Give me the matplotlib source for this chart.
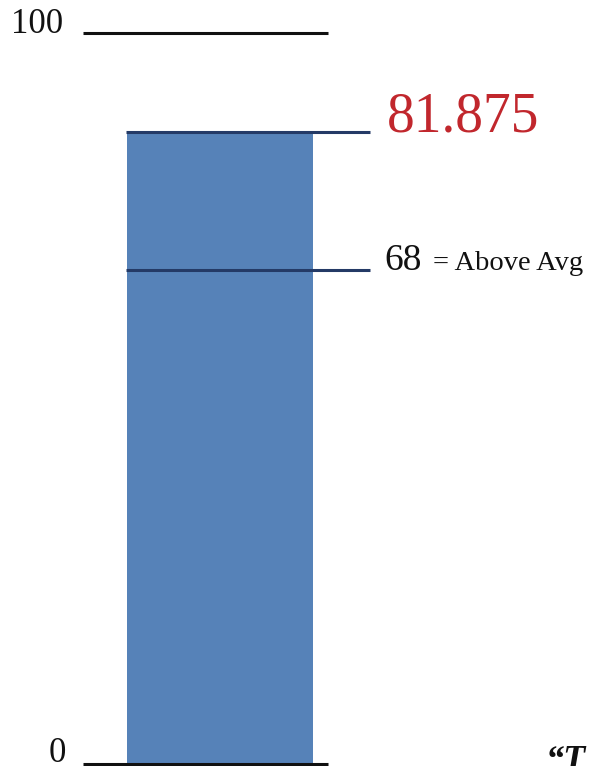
import matplotlib
matplotlib.use('Agg')
import matplotlib.pyplot as plt

# scale ends and their labels
scale_levels = [0, 100]
scale_labels = ['0', '100']

# the score bar (drawn level; label as printed)
score_level = 86.5
score_label = '81.875'

# reference mark
avg_level = 67.6
avg_label = '68'
avg_note = '= Above Avg'

W, H = 592, 766
fig = plt.figure(figsize=(W / 100, H / 100), dpi=100)
ax = fig.add_axes([0, 0, 1, 1])
ax.set_xlim(0, W)
# 0 sits 2 px above the bottom edge, 100 sits 33 px below the top edge
unit = 100 / 731
ax.set_ylim(-2 * unit, 100 + 33 * unit)
ax.axis('off')

serif = 'Liberation Serif'

# bar
ax.bar(220, score_level, width=186, color='#5682B8', zorder=1)

# scale lines and labels
for lvl, lab in zip(scale_levels, scale_labels):
    ax.hlines(lvl, 83, 328, color='#111111', lw=2.2, zorder=3)
    ax.text(66 if lvl == 0 else 63, lvl + (0.25 if lvl == 0 else 0), lab,
            ha='right', va='baseline', fontsize=25, family=serif, color='#111111')

# score line and label
ax.hlines(score_level, 126, 370, color='#243A66', lw=2.2, zorder=3)
ax.text(387, score_level, score_label, ha='left', va='baseline',
        fontsize=40, family=serif, color='#C1272D')

# average line and label
ax.hlines(avg_level, 126, 370, color='#243A66', lw=2.2, zorder=3)
ax.text(384, avg_level, avg_label, ha='left', va='baseline',
        fontsize=27, family=serif, color='#111111')
ax.text(433, avg_level, avg_note, ha='left', va='baseline',
        fontsize=20.5, family=serif, color='#111111')

# quote cut off at the bottom right corner
ax.text(546, -0.85, '\u201cT', ha='left', va='baseline', fontsize=26,
        family=serif, weight='bold', style='italic', color='#111111')

fig.savefig('out.png', dpi=100)
